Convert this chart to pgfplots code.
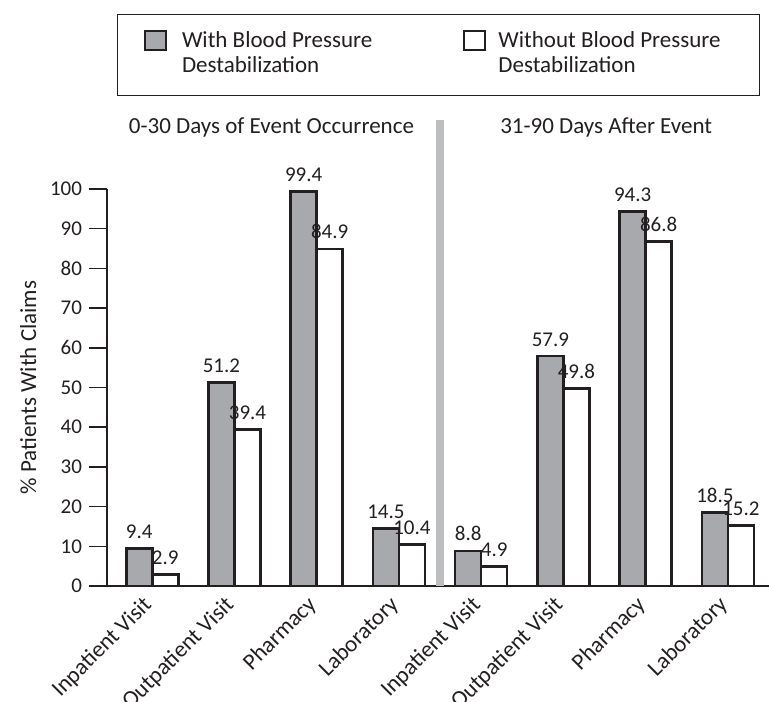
\documentclass[border=0pt]{standalone}
\usepackage{pgfplots}
\pgfplotsset{compat=1.18}
\usepackage{fontspec}
\setmainfont{Carlito}

\definecolor{ink}{RGB}{35,31,32}
\definecolor{bargray}{RGB}{167,169,172}
\definecolor{sepgray}{RGB}{188,190,192}

\begin{document}
\begin{tikzpicture}
\begin{axis}[
    name=ax,
    scale only axis,
    width=331pt, height=198.5pt,
    xmin=-0.55, xmax=7.5,
    ymin=0, ymax=100,
    axis lines*=left,
    axis line style={ink, line width=0.8pt},
    xtick={0,...,7},
    xticklabels={Inpatient Visit, Outpatient Visit, Pharmacy, Laboratory,
                 Inpatient Visit, Outpatient Visit, Pharmacy, Laboratory},
    x tick style={draw=none},
    xticklabel style={xshift=-5.4pt, yshift=5pt, rotate=45, anchor=north east, inner sep=0pt,
        font=\fontsize{11.5}{13}\selectfont},
    ytick={0,10,...,100},
    ytick pos=left,
    tick align=outside,
    major tick length=9pt,
    y tick style={ink, line width=0.8pt},
    yticklabel style={font=\fontsize{10.5}{12}\selectfont},
    ylabel={\% Patients With Claims},
    tick label style={text=ink},
    label style={font=\fontsize{11.5}{13}\selectfont, text=ink},
    /pgf/number format/assume math mode=true,
    ybar=0pt, bar width=13pt,
    every axis plot/.append style={draw=ink, line width=1.3pt},
    nodes near coords,
    nodes near coords style={font=\fontsize{10.5}{12}\selectfont, text=ink, yshift=1pt,
        /pgf/number format/.cd, fixed, precision=1, fixed zerofill, assume math mode=true},
    clip=false,
    legend columns=2,
    legend style={at={([yshift=87.5pt]axis description cs:0.5008,1)}, anchor=north,
        draw=ink, line width=0.7pt, inner xsep=13pt, inner ysep=7.5pt,
        cells={anchor=base}, nodes={inner sep=0pt, text depth=},
        font=\fontsize{11.5}{12.5}\selectfont, text=ink},
    legend image code/.code={\draw[#1, line width=1.2pt] (0pt,11.5pt) rectangle (10.5pt,21pt);},
]
\draw[sepgray, line width=4pt] (axis cs:3.5,0) -- (axis cs:3.5,117.5);

\addplot[fill=bargray] coordinates {
    (0,9.4) (1,51.2) (2,99.4) (3,14.5) (4,8.8) (5,57.9) (6,94.3) (7,18.5)
};
\addlegendentry{\hspace*{7.5pt}\makebox[140.5pt][l]{\begin{tabular}[b]{@{}l@{}}With Blood Pressure\\Destabilization\end{tabular}}}

\addplot[fill=white] coordinates {
    (0,2.9) (1,39.4) (2,84.9) (3,10.4) (4,4.9) (5,49.8) (6,86.8) (7,15.2)
};
\addlegendentry{\hspace*{6pt}\makebox[117.5pt][l]{\begin{tabular}[b]{@{}l@{}}Without Blood Pressure\\Destabilization\end{tabular}}}

\node[font=\fontsize{11.5}{13}\selectfont, text=ink] at (axis cs:1.45,115.6) {0-30 Days of Event Occurrence};
\node[font=\fontsize{11.5}{13}\selectfont, text=ink] at (axis cs:5.52,115.6) {31-90 Days After Event};
\end{axis}
\pgfresetboundingbox
\path ([xshift=-53.5pt,yshift=-57.5pt]ax.south west) rectangle ([yshift=94.5pt]ax.north east);
\end{tikzpicture}
\end{document}
